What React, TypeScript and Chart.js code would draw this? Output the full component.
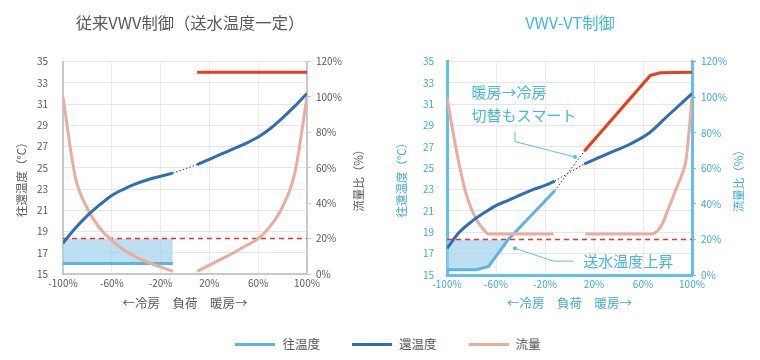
import React, { useEffect, useRef } from 'react';
import { Chart, registerables } from 'chart.js';

Chart.register(...registerables);

const FONT = '"Noto Sans CJK JP", "Noto Sans", sans-serif';

// ---- axes / labels ----
const xTicks = [-100, -60, -20, 20, 60, 100];
const tempMin = 15;
const tempMax = 35;
const tempStep = 2;
const flowMin = 0;
const flowMax = 120;
const flowStep = 20;
const flowThreshold = 20;

const titleConv = '従来VWV制御（送水温度一定）';
const titleVT = 'VWV-VT制御';
const yTitleTemp = '往還温度（°C）';
const yTitleFlow = '流量比（%）';
const xTitle = '←冷房　負荷　暖房→';
const legendLabels = ['往温度', '還温度', '流量'];
const noteSwitchText = ['暖房→冷房', '切替もスマート'];
const noteRiseText = '送水温度上昇';

// ---- conventional VWV (left) ----
const convReturnCoolX = [-100, -90, -80, -70, -60, -50, -40, -30, -20, -10];
const convReturnCoolY = [17.9, 19.3, 20.5, 21.5, 22.4, 23.0, 23.5, 23.9, 24.2, 24.5];
const convReturnHeatX = [10, 20, 30, 40, 50, 60, 70, 80, 90, 100];
const convReturnHeatY = [25.3, 25.8, 26.3, 26.8, 27.3, 27.9, 28.7, 29.7, 30.8, 32.0];
const convBridgeX = [-10, 10];
const convBridgeY = [24.5, 25.3];
const convSupplyCoolX = [-100, -10];
const convSupplyCoolY = [16, 16];
const convSupplyHeatX = [10, 100];
const convSupplyHeatY = [34, 34];
const convFlowCoolX = [-100, -90, -80, -70, -60, -50, -40, -30, -20, -10];
const convFlowCoolY = [100, 55, 37, 26, 19, 13.5, 9.5, 6.5, 4, 1.5];
const convFlowHeatX = [10, 20, 30, 40, 50, 60, 70, 80, 90, 100];
const convFlowHeatY = [1.5, 5, 8.5, 12, 16, 20, 27, 38, 57, 100];
const convFillX = [-100, -10];
const convFillBottomY = [16, 16];

// ---- VWV-VT (right) ----
const vtReturnCoolX = [-100, -90, -80, -70, -60, -50, -40, -30, -20, -12];
const vtReturnCoolY = [17.5, 19.0, 20.0, 20.8, 21.5, 22.0, 22.5, 23.0, 23.4, 23.8];
const vtReturnHeatX = [12, 30, 50, 65, 80, 100];
const vtReturnHeatY = [25.4, 26.3, 27.3, 28.3, 29.9, 32.0];
const vtBridgeReturnX = [-12, 12];
const vtBridgeReturnY = [23.8, 25.4];
const vtSupplyCoolX = [-100, -76, -66, -50, -12];
const vtSupplyCoolY = [15.5, 15.5, 15.8, 18.33, 22.9];
const vtSupplyHeatX = [12, 66, 74, 100];
const vtSupplyHeatY = [26.6, 33.7, 33.95, 34.0];
const vtBridgeSupplyX = [-12, 12];
const vtBridgeSupplyY = [22.9, 26.6];
const vtFlowCoolX = [-100, -95, -90, -85, -80, -75, -70, -66, -13];
const vtFlowCoolY = [100, 80, 62, 47, 37, 30, 25.5, 23, 23];
const vtFlowHeatX = [13, 67, 72, 76, 80, 84, 88, 92, 95, 97.5, 100];
const vtFlowHeatY = [23, 23, 25, 29, 36, 43, 50, 57, 64, 80, 100];
const vtFillX = [-100, -76, -66, -50];
const vtFillBottomY = [15.5, 15.5, 15.8, 18.33];

// ---- styling ----
const C_SUPPLY = '#5cb4e4';
const C_RETURN = '#2f6db5';
const C_HEAT = '#e63e1e';
const C_FLOW = '#e8ad9e';
const C_FILL = 'rgba(160,210,237,0.7)';
const C_DASH = '#ff2a2a';
const C_GRAY_TEXT = '#595959';
const C_BLUE_TEXT = '#3ea8d8';
const C_BLUE_TITLE = '#45b6e0';

const NOTE_LAYOUT = {
  switchX: -80,
  switchY: [32.1, 30.0],
  switchLeader: [[-44.5, 28.45], [-44.5, 27.5], [4.5, 26.05]],
  riseX: 11.3,
  riseY: 16.25,
  riseLeader: [[3, 16.3], [-13, 16.3], [-44.5, 17.5]],
};

const pts = (xs: number[], ys: number[]) => xs.map((x, i) => ({ x, y: ys[i] }));

function lineDs(data: any, color: string, axis: string, extra: any = {}) {
  return {
    data,
    borderColor: color,
    backgroundColor: color,
    borderWidth: 3,
    pointRadius: 0,
    fill: false,
    yAxisID: axis,
    ...extra,
  };
}

function buildDatasets(kind: 'conv' | 'vt') {
  const c = kind === 'conv';
  const fillX = c ? convFillX : vtFillX;
  const fillBottom = c ? convFillBottomY : vtFillBottomY;
  const mono = { cubicInterpolationMode: 'monotone' };
  return [
    lineDs(pts(fillX, fillBottom), 'rgba(0,0,0,0)', 'y', { borderWidth: 0, order: 20 }),
    lineDs(pts(fillX, fillX.map(() => flowThreshold)), 'rgba(0,0,0,0)', 'y1', {
      borderWidth: 0,
      fill: '-1',
      backgroundColor: C_FILL,
      order: 19,
    }),
    lineDs(pts([-100, 100], [flowThreshold, flowThreshold]), C_DASH, 'y1', {
      borderWidth: 1.5,
      borderDash: [5, 4],
      order: 10,
    }),
    lineDs(pts(c ? convSupplyCoolX : vtSupplyCoolX, c ? convSupplyCoolY : vtSupplyCoolY), C_SUPPLY, 'y', { order: 6 }),
    lineDs(pts(c ? convFlowCoolX : vtFlowCoolX, c ? convFlowCoolY : vtFlowCoolY), C_FLOW, 'y1', { order: 5, ...mono }),
    lineDs(pts(c ? convFlowHeatX : vtFlowHeatX, c ? convFlowHeatY : vtFlowHeatY), C_FLOW, 'y1', { order: 5, ...mono }),
    lineDs(pts(c ? convReturnCoolX : vtReturnCoolX, c ? convReturnCoolY : vtReturnCoolY), C_RETURN, 'y', { order: 3, ...mono }),
    lineDs(pts(c ? convReturnHeatX : vtReturnHeatX, c ? convReturnHeatY : vtReturnHeatY), C_RETURN, 'y', { order: 3, ...mono }),
    lineDs(pts(c ? convSupplyHeatX : vtSupplyHeatX, c ? convSupplyHeatY : vtSupplyHeatY), C_HEAT, 'y', { order: 2 }),
    lineDs(pts(c ? convBridgeX : vtBridgeReturnX, c ? convBridgeY : vtBridgeReturnY), '#333', 'y', {
      borderWidth: 1,
      borderDash: [1.5, 2],
      order: 1,
    }),
    ...(c
      ? []
      : [
          lineDs(pts(vtBridgeSupplyX, vtBridgeSupplyY), '#333', 'y', {
            borderWidth: 1,
            borderDash: [1.5, 2],
            order: 1,
          }),
        ]),
  ];
}

function makeExtras(kind: 'conv' | 'vt') {
  const textColor = kind === 'conv' ? C_GRAY_TEXT : C_BLUE_TEXT;
  return {
    id: 'extras_' + kind,
    afterDraw(chart: any) {
      const ctx = chart.ctx;
      const area = chart.chartArea;
      const cy = (area.top + area.bottom) / 2 + 9;
      ctx.save();
      ctx.fillStyle = textColor;
      ctx.font = `11.5px ${FONT}`;
      ctx.textAlign = 'center';
      ctx.textBaseline = 'middle';
      ctx.translate(22, cy);
      ctx.rotate(-Math.PI / 2);
      ctx.fillText(yTitleTemp, 0, 0);
      ctx.restore();
      ctx.save();
      ctx.fillStyle = textColor;
      ctx.font = `11.5px ${FONT}`;
      ctx.textAlign = 'center';
      ctx.textBaseline = 'middle';
      ctx.translate(359, cy + 1);
      ctx.rotate(-Math.PI / 2);
      ctx.fillText(yTitleFlow, 0, 0);
      ctx.restore();

      if (kind !== 'vt') return;
      const xs = chart.scales.x;
      const ys = chart.scales.y;
      const px = (v: number) => xs.getPixelForValue(v);
      const py = (v: number) => ys.getPixelForValue(v);
      ctx.save();
      ctx.fillStyle = C_BLUE_TITLE;
      ctx.font = `15px ${FONT}`;
      ctx.textAlign = 'left';
      ctx.textBaseline = 'middle';
      noteSwitchText.forEach((t, i) => ctx.fillText(t, px(NOTE_LAYOUT.switchX), py(NOTE_LAYOUT.switchY[i])));
      ctx.fillText(noteRiseText, px(NOTE_LAYOUT.riseX), py(NOTE_LAYOUT.riseY));
      const leader = (p: number[][]) => {
        ctx.beginPath();
        ctx.strokeStyle = '#5bbde6';
        ctx.lineWidth = 1;
        p.forEach((q, i) => (i ? ctx.lineTo(px(q[0]), py(q[1])) : ctx.moveTo(px(q[0]), py(q[1]))));
        ctx.stroke();
        const last = p[p.length - 1];
        ctx.beginPath();
        ctx.fillStyle = '#5bbde6';
        ctx.arc(px(last[0]), py(last[1]), 2, 0, Math.PI * 2);
        ctx.fill();
      };
      leader(NOTE_LAYOUT.switchLeader);
      leader(NOTE_LAYOUT.riseLeader);
      ctx.restore();
    },
  };
}

function buildOptions(kind: 'conv' | 'vt') {
  const c = kind === 'conv';
  const textColor = c ? C_GRAY_TEXT : C_BLUE_TEXT;
  const axisColor = c ? '#c8c8c8' : '#62c1e8';
  const axisWidth = c ? 2 : 3;
  const tickFont = { family: FONT, size: 10 };
  return {
    responsive: false,
    animation: false,
    devicePixelRatio: 1,
    events: [],
    layout: { padding: 0 },
    plugins: {
      legend: { display: false },
      tooltip: { enabled: false },
      title: {
        display: true,
        text: c ? titleConv : titleVT,
        color: c ? C_GRAY_TEXT : C_BLUE_TITLE,
        font: { family: FONT, size: 16.3, weight: 'normal' },
        padding: { top: 13, bottom: 29 },
      },
    },
    scales: {
      x: {
        type: 'linear',
        min: -100,
        max: 100,
        afterBuildTicks: (s: any) => {
          s.ticks = xTicks.map((v) => ({ value: v }));
        },
        afterFit: (s: any) => {
          s.height = c ? 46 : 45;
        },
        ticks: {
          callback: (v: any) => v + '%',
          color: textColor,
          font: tickFont,
          padding: 3,
          maxRotation: 0,
          autoSkip: false,
        },
        grid: { color: '#ebebeb', drawTicks: false },
        border: { display: true, color: axisColor, width: axisWidth },
        title: {
          display: true,
          text: xTitle,
          color: textColor,
          font: { family: FONT, size: 12.5 },
          padding: { top: 0, bottom: 9 },
        },
      },
      y: {
        position: 'left',
        min: tempMin,
        max: tempMax,
        afterFit: (s: any) => {
          s.width = c ? 63 : 67;
        },
        ticks: { stepSize: tempStep, color: textColor, font: tickFont, padding: c ? 15 : 13 },
        grid: { color: '#e6e6e6', drawTicks: false },
        border: { display: true, color: axisColor, width: axisWidth },
      },
      y1: {
        position: 'right',
        min: flowMin,
        max: flowMax,
        afterFit: (s: any) => {
          s.width = c ? 73 : 68;
        },
        ticks: {
          stepSize: flowStep,
          color: textColor,
          font: tickFont,
          padding: 5,
          callback: (v: any) => v + '%',
        },
        grid: { drawOnChartArea: false, drawTicks: true, tickLength: 4, color: axisColor, tickColor: axisColor },
        border: { display: true, color: axisColor, width: axisWidth },
      },
    },
  };
}

function ChartPanel({ kind, left }: { kind: 'conv' | 'vt'; left: number }) {
  const ref = useRef<HTMLCanvasElement>(null);
  useEffect(() => {
    if (!ref.current) return;
    const chart = new Chart(ref.current, {
      type: 'line',
      data: { datasets: buildDatasets(kind) as any },
      options: buildOptions(kind) as any,
      plugins: [makeExtras(kind) as any],
    });
    return () => chart.destroy();
  }, [kind]);
  return (
    <canvas
      ref={ref}
      width={380}
      height={320}
      style={{ position: 'absolute', left, top: 0, width: 380, height: 320 }}
    />
  );
}

const legendColors = [C_SUPPLY, C_RETURN, C_FLOW];

export default function App() {
  return (
    <div
      style={{
        position: 'absolute',
        left: 0,
        top: 0,
        width: 760,
        height: 360,
        background: '#fff',
        fontFamily: FONT,
        overflow: 'hidden',
      }}
    >
      <ChartPanel kind="conv" left={0} />
      <ChartPanel kind="vt" left={380} />
      <div
        style={{
          position: 'absolute',
          left: 0,
          top: 334,
          width: 760,
          height: 20,
          display: 'flex',
          justifyContent: 'center',
          alignItems: 'center',
          gap: 32,
          paddingLeft: 16,
          boxSizing: 'border-box',
        }}
      >
        {legendLabels.map((l, i) => (
          <div key={l} style={{ display: 'flex', alignItems: 'center' }}>
            <span style={{ display: 'inline-block', width: 40, height: 3, background: legendColors[i], marginRight: 7 }} />
            <span style={{ fontSize: 12.5, color: C_GRAY_TEXT, lineHeight: '20px' }}>{l}</span>
          </div>
        ))}
      </div>
    </div>
  );
}
